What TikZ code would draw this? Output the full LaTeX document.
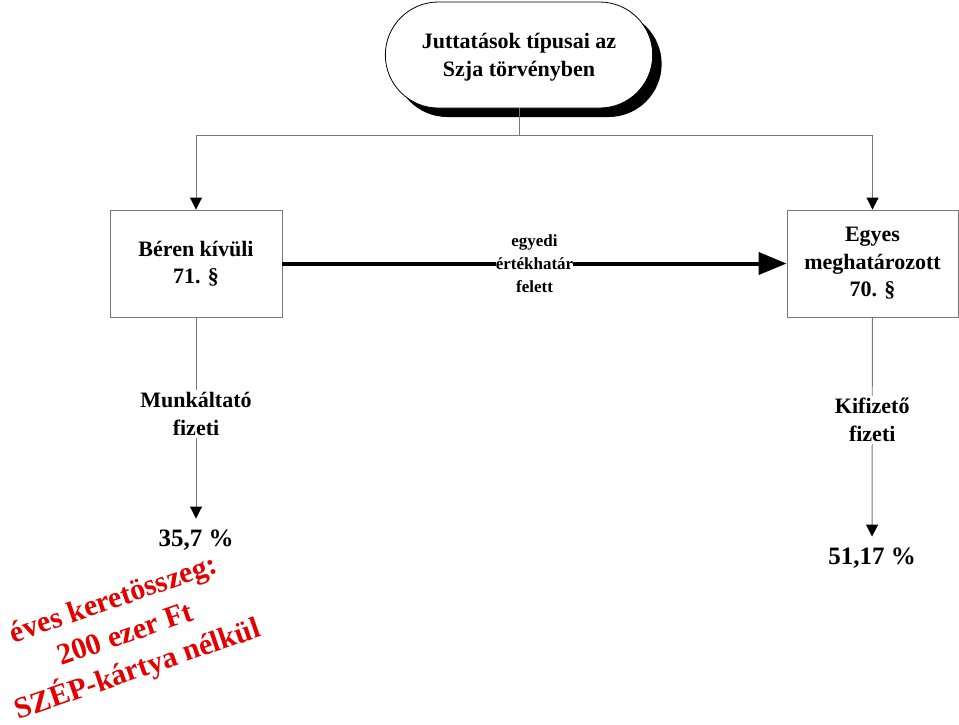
\documentclass[tikz,border=0pt]{standalone}
\usepackage{fontspec}
\setmainfont{Liberation Serif}
\usetikzlibrary{arrows.meta,positioning,shapes.misc,shadows}
\definecolor{piros}{RGB}{228,0,0}
\definecolor{vonalszin}{RGB}{120,120,120}

\tikzset{
  doboz/.style={draw=vonalszin, line width=0.9pt, minimum width=172pt, minimum height=107pt,
    align=center, font=\bfseries\fontsize{22}{27.5}\selectfont},
  cimke/.style={fill=white, align=center, inner sep=2pt, font=\bfseries\fontsize{22}{28}\selectfont},
  szazalek/.style={inner sep=2pt, font=\bfseries\fontsize{25}{30}\selectfont},
  vonal/.style={draw=vonalszin, line width=0.9pt},
}

\begin{document}
\begin{tikzpicture}[x=1pt, y=-1pt, >={Triangle[length=12pt,width=12pt,black]}]
    \useasboundingbox (0,0) rectangle (959,724);

    % 1. Felso doboz
    \node[draw, line width=0.8pt, rounded rectangle, fill=white, minimum width=274pt, minimum height=106pt,
      align=center, font=\bfseries\fontsize{22}{27.5}\selectfont,
      drop shadow={shadow xshift=9pt, shadow yshift=-9pt, fill=black, opacity=1}]
      (tipusok) at (519,55) {\strut Juttatások típusai az\\Szja törvényben};

    % 2. Also dobozok
    \node[doboz] (beren) at (196,263.5) {Béren kívüli\\71. §};
    \node[doboz, minimum width=171pt] (egyes) at (872.5,263.5) {Egyes\\meghatározott\\70. §};

    % 3. Elagazas
    \coordinate (elag) at (tipusok.south |- 0,135);
    \draw[vonal] (tipusok.south) -- (elag);
    \draw[vonal, ->] (elag) -| (beren.north);
    \draw[vonal, ->] (elag) -| (egyes.north);

    % 4. Vastag nyil
    \draw[line width=4pt, -{Triangle[length=28pt,width=22pt]}] (beren) -- (egyes)
      node[midway, fill=white, inner sep=0pt, align=center, font=\bfseries\fontsize{17}{23}\selectfont]
      (hatar) {egyedi\\értékhatár\\felett};

    % 5. Szazalekok
    \node[szazalek] (pctA) at (196,540) {35,7 \%};
    \node[szazalek] (pctB) at (872,558) {51,17 \%};
    \draw[vonal, ->, shorten >=9pt] (beren) -- node[cimke, pos=0.46] (munk) {Munkáltató\\fizeti} (pctA);
    \draw[vonal, ->, shorten >=9pt] (egyes) -- node[cimke, pos=0.45] (kifiz) {Kifizető\\fizeti} (pctB);

    % 6. Piros szoveg
    \node[rotate=19, text=piros, align=center, font=\bfseries\fontsize{30}{37}\selectfont]
      (szep) at (126,636) {éves keretösszeg:\\200 ezer Ft\\SZÉP-kártya nélkül};
\end{tikzpicture}
\end{document}
